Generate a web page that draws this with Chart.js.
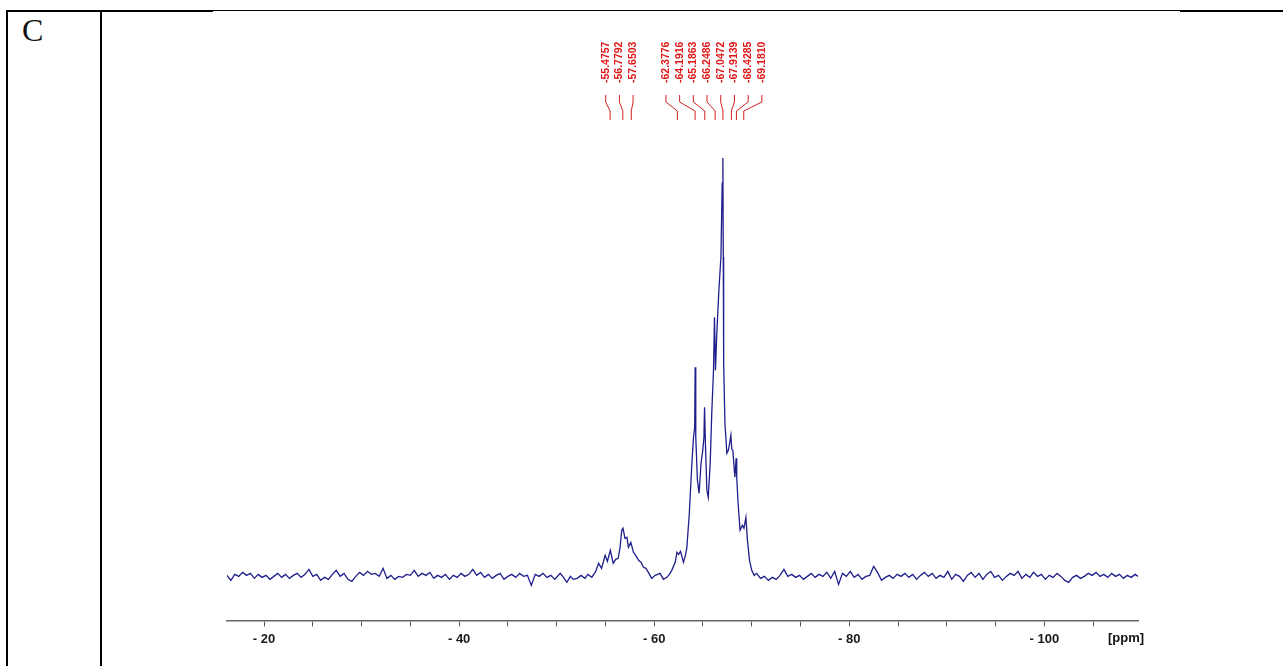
<!DOCTYPE html>
<html>
<head>
<meta charset="utf-8">
<script src="https://cdn.jsdelivr.net/npm/chart.js@4.4.1/dist/chart.umd.min.js"></script>
<style>
  body { margin: 0; background: #fff; }
  #wrap { position: relative; width: 1283px; height: 666px; overflow: hidden; }
  #spec { position: absolute; left: 0; top: 0; }
  .rule { position: absolute; background: #000; }
  #panel { position: absolute; left: 22px; top: 14px; font: 32px 'Liberation Serif', serif; line-height: 32px; color: #111; }
</style>
</head>
<body>
<div id="wrap">
  <div class="rule" style="left:7px;top:10px;width:206px;height:2px"></div>
  <div class="rule" style="left:213px;top:10px;width:967px;height:1px"></div>
  <div class="rule" style="left:1180px;top:10px;width:103px;height:2px"></div>
  <div class="rule" style="left:6px;top:10px;width:2px;height:656px"></div>
  <div class="rule" style="left:100px;top:10px;width:2px;height:656px"></div>
  <div id="panel">C</div>
  <canvas id="spec" width="1283" height="666"></canvas>
</div>
<script>
// chemical shift (ppm) and intensity
var baseLeftPpm = [
  -16.2, -16.6, -17.0, -17.4, -17.8, -18.2, -18.6, -19.0, -19.4, -19.8,
  -20.2, -20.6, -21.0, -21.4, -21.8, -22.2, -22.6, -23.0, -23.4, -23.8,
  -24.2, -24.6, -25.0, -25.4, -25.8, -26.2, -26.6, -27.0, -27.4, -27.8,
  -28.2, -28.6, -29.0, -29.4, -29.8, -30.2, -30.6, -31.0, -31.4, -31.8,
  -32.2, -32.6, -33.0, -33.4, -33.8, -34.2, -34.6, -35.0, -35.4, -35.8,
  -36.2, -36.6, -37.0, -37.4, -37.8, -38.2, -38.6, -39.0, -39.4, -39.8,
  -40.2, -40.6, -41.0, -41.4, -41.8, -42.2, -42.6, -43.0, -43.4, -43.8,
  -44.2, -44.6, -45.0, -45.4, -45.8, -46.2, -46.6, -47.0, -47.4, -47.8,
  -48.2, -48.6, -49.0, -49.4, -49.8
];
var baseLeftInt = [
  2, -3, 3, 1, 5, 2, 4, -1, 3, 0,
  2, -2, 1, 4, 0, 3, -1, 2, 4, 0,
  3, 8, 1, 3, -3, 0, -2, 3, 7, 1,
  4, -2, -4, 1, 5, 2, 6, 3, 4, 1,
  9, -1, 2, -2, 1, 0, 3, 2, 7, 1,
  4, 2, 5, -1, 2, 0, 3, -2, 2, 0,
  4, 1, 3, 8, 2, 5, 0, 3, -1, 2,
  4, -2, 1, 3, 0, 4, 1, 2, -8, 3,
  1, 4, 0, 2, -2
];
var peakPpm = [
  -50.36, -50.7, -51.05, -51.4, -51.7, -52.1, -52.5, -52.9, -53.2, -53.6,
  -54.0, -54.3, -54.6, -54.97, -55.2, -55.5, -55.8, -56.05, -56.3, -56.5,
  -56.67, -56.8, -57.0, -57.2, -57.36, -57.6, -57.88, -58.1, -58.4, -58.65,
  -58.9, -59.15, -59.4, -59.75, -60.1, -60.6, -60.95, -61.3, -61.55, -61.8,
  -62.15, -62.33, -62.5, -62.7, -63.0, -63.2, -63.35, -63.6, -63.86, -64.03,
  -64.15, -64.2, -64.26, -64.43, -64.6, -64.8, -64.98, -65.1, -65.16, -65.26,
  -65.4, -65.54, -65.74, -65.9, -66.08, -66.18, -66.28, -66.4, -66.63, -66.84,
  -66.97, -67.04, -67.08, -67.12, -67.25, -67.45, -67.6, -67.75, -67.86, -67.95,
  -68.06, -68.27, -68.4, -68.46, -68.6, -68.8, -69.04, -69.2, -69.4, -69.56,
  -69.77, -70.0, -70.25
];
var peakInt = [
  4, 0, -5, 1, -2, -1, 2, -1, 3, 0,
  6, 14, 9, 22, 16, 27, 14, 18, 19, 30,
  47, 49, 39, 40, 30, 35, 25, 22, 17, 15,
  10, 9, 5, -1, 2, 4, -2, 0, 3, 7,
  15, 25, 23, 26, 15, 22, 30, 64, 114, 140,
  150, 210, 140, 97, 84, 114, 127, 140, 170, 130,
  87, 80, 114, 164, 207, 260, 207, 240, 287, 320,
  394, 419, 320, 214, 154, 124, 127, 135, 142, 128,
  127, 100, 119, 100, 74, 47, 52, 49, 60, 37,
  17, 7, 2
];
var baseRightPpm = [
  -70.5, -70.9, -71.3, -71.7, -72.1, -72.5, -72.9, -73.3, -73.7, -74.1,
  -74.5, -74.9, -75.3, -75.7, -76.1, -76.5, -76.9, -77.3, -77.7, -78.1,
  -78.5, -78.9, -79.3, -79.7, -80.1, -80.5, -80.9, -81.3, -81.7, -82.1,
  -82.5, -82.9, -83.3, -83.7, -84.1, -84.5, -84.9, -85.3, -85.7, -86.1,
  -86.5, -86.9, -87.3, -87.7, -88.1, -88.5, -88.9, -89.3, -89.7, -90.1,
  -90.5, -90.9, -91.3, -91.7, -92.1, -92.5, -92.9, -93.3, -93.7, -94.1,
  -94.5, -94.9, -95.3, -95.7, -96.1, -96.5, -96.9, -97.3, -97.7, -98.1,
  -98.5, -98.9, -99.3, -99.7, -100.1, -100.5, -100.9, -101.3, -101.7, -102.1,
  -102.5, -102.9, -103.3, -103.7, -104.1, -104.5, -104.9, -105.3, -105.7, -106.1,
  -106.5, -106.9, -107.3, -107.7, -108.1, -108.5, -108.9, -109.3, -109.6
];
var baseRightInt = [
  4, -1, 1, -3, 0, -2, 2, 8, 1, 3,
  0, 2, -2, 1, 4, 0, 3, 1, 5, -1,
  6, -7, 4, 1, 6, 0, 3, -2, 1, 2,
  11, 5, -3, 0, 2, -1, 3, 1, 4, 0,
  3, -2, 2, 5, 1, 4, -1, 2, 0, 6,
  -2, 3, 1, -4, 2, 5, 0, 4, -2, 3,
  6, 0, 2, -3, 1, 4, 2, 6, -1, 3,
  0, 5, 1, 3, -2, 2, 0, 4, 1, -3,
  -5, 0, 2, -1, 1, 4, 2, 5, 1, 3,
  0, 4, 1, 3, -1, 2, 0, 3, 1
];
var peakShifts = [-55.4757, -56.7792, -57.6503, -62.3776, -64.1916, -65.1863,
  -66.2486, -67.0472, -67.9139, -68.4285, -69.1810];
var axisTicks = [-20, -40, -60, -80, -100];

var shiftPpm = baseLeftPpm.concat(peakPpm, baseRightPpm);
var intensity = baseLeftInt.concat(peakInt, baseRightInt);
var points = shiftPpm.map(function (p, i) { return { x: p, y: intensity[i] }; });

// red peak list on top, with the little kinked leader lines
var peakLabels = {
  id: 'peakLabels',
  afterDatasetsDraw: function (chart) {
    var xs = chart.scales.x;
    var ctx = chart.ctx;
    var gap = 13.7;
    var ideal = peakShifts.map(function (p) { return xs.getPixelForValue(p); });
    // spread labels apart, cluster by cluster
    var groups = ideal.map(function (v, i) { return { start: i, n: 1, sum: v }; });
    var merged = true;
    var pos = function (g) { return g.sum / g.n - (g.n - 1) * gap / 2; };
    while (merged) {
      merged = false;
      for (var i = 0; i < groups.length - 1; i++) {
        var a = groups[i], b = groups[i + 1];
        if (pos(a) + a.n * gap > pos(b)) {
          groups.splice(i, 2, { start: a.start, n: a.n + b.n, sum: a.sum + b.sum });
          merged = true;
          break;
        }
      }
    }
    var cols = [];
    groups.forEach(function (g) {
      for (var k = 0; k < g.n; k++) cols.push(pos(g) + k * gap - 2);
    });

    ctx.save();
    ctx.strokeStyle = '#d42020';
    ctx.fillStyle = '#e01515';
    ctx.lineWidth = 1;
    ctx.font = 'bold 10.5px "Liberation Sans", Arial, sans-serif';
    ctx.textAlign = 'left';
    ctx.textBaseline = 'middle';
    peakShifts.forEach(function (p, i) {
      var lx = cols[i], px = ideal[i];
      ctx.save();
      ctx.translate(lx, 83);
      ctx.rotate(-Math.PI / 2);
      ctx.fillText(p.toFixed(4), 0, 0);
      ctx.restore();
      ctx.beginPath();
      ctx.moveTo(lx, 95);
      ctx.lineTo(lx, 102);
      ctx.lineTo(px, 111);
      ctx.lineTo(px, 120);
      ctx.stroke();
    });
    // unit label at the right end of the axis
    ctx.fillStyle = '#111';
    ctx.font = 'bold 13px "Liberation Sans", Arial, sans-serif';
    ctx.textAlign = 'center';
    ctx.textBaseline = 'middle';
    ctx.fillText('[ppm]', xs.right - 12, 638);
    ctx.restore();
  }
};

new Chart(document.getElementById('spec'), {
  type: 'line',
  data: {
    datasets: [{
      data: points,
      borderColor: '#1e1e8c',
      borderWidth: 1.3,
      pointRadius: 0,
      tension: 0,
      fill: false
    }]
  },
  options: {
    responsive: false,
    animation: false,
    layout: { padding: { left: 227, right: 145, top: 140, bottom: 14 } },
    plugins: { legend: { display: false }, tooltip: { enabled: false } },
    scales: {
      x: {
        type: 'linear',
        reverse: true,
        min: -109.6,
        max: -16.2,
        border: { display: true, color: '#666', width: 1.5 },
        grid: { drawOnChartArea: false, drawTicks: true, tickLength: 6, color: '#555' },
        ticks: {
          stepSize: 5,
          includeBounds: false,
          autoSkip: false,
          maxRotation: 0,
          padding: 5,
          color: '#1a1a1a',
          font: { family: '"Liberation Sans", Arial, sans-serif', size: 13, weight: 'bold' },
          callback: function (v) {
            return axisTicks.indexOf(v) >= 0 ? '- ' + Math.abs(v) : '';
          }
        }
      },
      y: { display: false, min: -43, max: 437 }
    }
  },
  plugins: [peakLabels]
});
</script>
</body>
</html>
